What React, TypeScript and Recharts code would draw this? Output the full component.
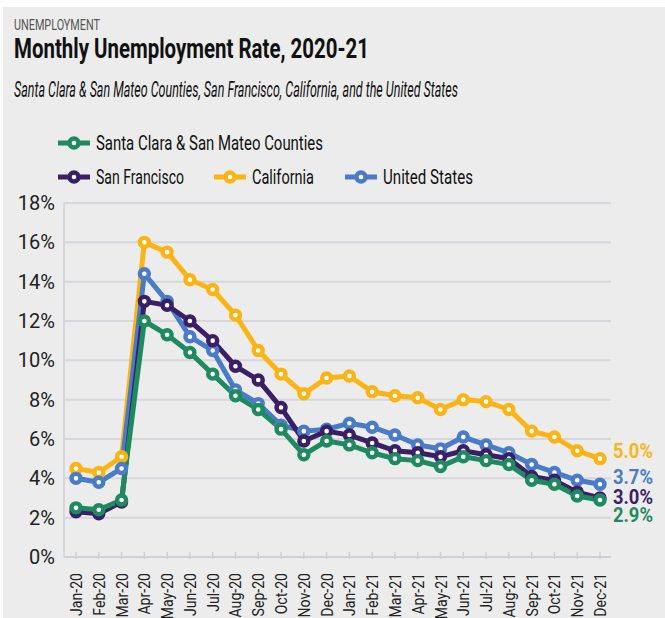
import React from "react";
import { LineChart, Line, XAxis, YAxis, CartesianGrid, LabelList } from "recharts";

// Monthly unemployment rate (%), Jan 2020 – Dec 2021
const months = [
  "Jan-20", "Feb-20", "Mar-20", "Apr-20", "May-20", "Jun-20", "Jul-20", "Aug-20", "Sep-20", "Oct-20", "Nov-20", "Dec-20",
  "Jan-21", "Feb-21", "Mar-21", "Apr-21", "May-21", "Jun-21", "Jul-21", "Aug-21", "Sep-21", "Oct-21", "Nov-21", "Dec-21",
];
const santaClara = [2.5, 2.4, 2.9, 12.0, 11.3, 10.4, 9.3, 8.2, 7.5, 6.5, 5.2, 5.9, 5.7, 5.3, 5.0, 4.9, 4.6, 5.1, 4.9, 4.7, 3.9, 3.7, 3.1, 2.9];
const sanFrancisco = [2.3, 2.2, 2.8, 13.0, 12.8, 12.0, 11.0, 9.7, 9.0, 7.6, 5.9, 6.4, 6.2, 5.8, 5.4, 5.3, 5.1, 5.4, 5.2, 5.0, 4.1, 3.9, 3.3, 3.0];
const california = [4.5, 4.3, 5.1, 16.0, 15.5, 14.1, 13.6, 12.3, 10.5, 9.3, 8.3, 9.1, 9.2, 8.4, 8.2, 8.1, 7.5, 8.0, 7.9, 7.5, 6.4, 6.1, 5.4, 5.0];
const unitedStates = [4.0, 3.8, 4.5, 14.4, 13.0, 11.2, 10.5, 8.5, 7.8, 6.7, 6.4, 6.5, 6.8, 6.6, 6.2, 5.7, 5.5, 6.1, 5.7, 5.3, 4.7, 4.3, 3.9, 3.7];
const yTicks = [0, 2, 4, 6, 8, 10, 12, 14, 16, 18];

const FONT = '"Roboto", "Noto Sans", sans-serif';

// drawn in this order, Santa Clara last (on top)
const series = [
  { key: "ca", name: "California", values: california, color: "#fbb416", endDy: -1 },
  { key: "us", name: "United States", values: unitedStates, color: "#4a7bc6", endDy: 0 },
  { key: "sf", name: "San Francisco", values: sanFrancisco, color: "#3b1f66", endDy: 6 },
  { key: "sc", name: "Santa Clara & San Mateo Counties", values: santaClara, color: "#1f8a5f", endDy: 22 },
];

const data = months.map((m, i) => {
  const row: any = { month: m };
  series.forEach((s) => (row[s.key] = s.values[i]));
  return row;
});

// legend placement (order as in the original), w = text width
const legendItems = [
  { key: "sc", x: 58, y: 143, w: 227 },
  { key: "sf", x: 58, y: 177, w: 88 },
  { key: "ca", x: 214, y: 177, w: 62 },
  { key: "us", x: 345, y: 177, w: 90 },
];

const XTick = (props: any) => {
  const { x, y, payload } = props;
  return (
    <g>
      <line x1={x} x2={x} y1={y - 7} y2={y} stroke="#cfd0d6" strokeWidth={1.5} />
      <text
        transform={`translate(${x + 6},${y + 14}) rotate(-90) scale(0.88,1)`}
        textAnchor="end"
        fontSize={16}
        fontFamily={FONT}
        fill="#222"
      >
        {payload.value}
      </text>
    </g>
  );
};

const endLabel = (color: string, dy: number) => (props: any) => {
  const { x, y, value, index } = props;
  if (index !== months.length - 1) return null;
  return (
    <text
      x={x + 13}
      y={y + dy}
      fill={color}
      fontSize={21}
      fontWeight="bold"
      fontFamily={FONT}
      textLength={40}
      lengthAdjust="spacingAndGlyphs"
    >
      {Number(value).toFixed(1)}%
    </text>
  );
};

export default function App() {
  return (
    <div style={{ position: "fixed", left: 0, top: 0, width: 665, height: 618, background: "#fff", overflow: "hidden" }}>
      <div style={{ position: "absolute", left: 3, top: 7, right: 0, bottom: 0, background: "#ececec" }} />
      <svg width={665} height={120} style={{ position: "absolute", left: 0, top: 0 }}>
        <text x={14} y={30} fontSize={14} fill="#555" fontFamily={FONT} textLength={86} lengthAdjust="spacingAndGlyphs">
          UNEMPLOYMENT
        </text>
        <text x={14} y={58} fontSize={27} fontWeight="bold" fill="#111" fontFamily={FONT} textLength={355} lengthAdjust="spacingAndGlyphs">
          Monthly Unemployment Rate, 2020-21
        </text>
        <text x={14} y={97} fontSize={22} fontStyle="italic" fill="#111" fontFamily={FONT} textLength={444} lengthAdjust="spacingAndGlyphs">
          Santa Clara &amp; San Mateo Counties, San Francisco, California, and the United States
        </text>
      </svg>
      <svg width={665} height={80} style={{ position: "absolute", left: 0, top: 120 }}>
        {legendItems.map((it) => {
          const s = series.find((d) => d.key === it.key)!;
          const cy = it.y - 120;
          return (
            <g key={it.key}>
              <line x1={it.x} x2={it.x + 32} y1={cy} y2={cy} stroke={s.color} strokeWidth={5} />
              <circle cx={it.x + 16} cy={cy} r={4.5} fill="#fff" stroke={s.color} strokeWidth={4.4} />
              <text
                x={it.x + 38}
                y={cy + 7}
                fontSize={21}
                fill="#111"
                fontFamily={FONT}
                textLength={it.w}
                lengthAdjust="spacingAndGlyphs"
              >
                {s.name}
              </text>
            </g>
          );
        })}
      </svg>
      <div style={{ position: "absolute", left: 0, top: 0 }}>
        <LineChart
          width={665}
          height={618}
          data={data}
          margin={{ top: 203, right: 54, left: 0, bottom: 0 }}
          style={{ fontFamily: FONT }}
        >
          <CartesianGrid vertical={false} stroke="#d6d6dc" strokeWidth={2} />
          <XAxis
            dataKey="month"
            height={61}
            interval={0}
            padding={{ left: 12, right: 11 }}
            tickSize={0}
            tickLine={false}
            axisLine={{ stroke: "#cfd0d6", strokeWidth: 2 }}
            tick={<XTick />}
          />
          <YAxis
            width={64}
            domain={[0, 18]}
            ticks={yTicks}
            interval={0}
            tickSize={0}
            tickMargin={9}
            tickLine={false}
            axisLine={{ stroke: "#d6d6dc", strokeWidth: 2 }}
            tickFormatter={(v) => `${v}%`}
            tick={{ fontSize: 20, fill: "#222", fontFamily: FONT }}
          />
          {series.map((s) => (
            <Line
              key={s.key}
              dataKey={s.key}
              name={s.name}
              stroke={s.color}
              strokeWidth={5}
              dot={{ r: 4.5, fill: "#fff", stroke: s.color, strokeWidth: 4.4 }}
              activeDot={false}
              isAnimationActive={false}
            >
              <LabelList dataKey={s.key} content={endLabel(s.color, s.endDy)} />
            </Line>
          ))}
        </LineChart>
      </div>
    </div>
  );
}
